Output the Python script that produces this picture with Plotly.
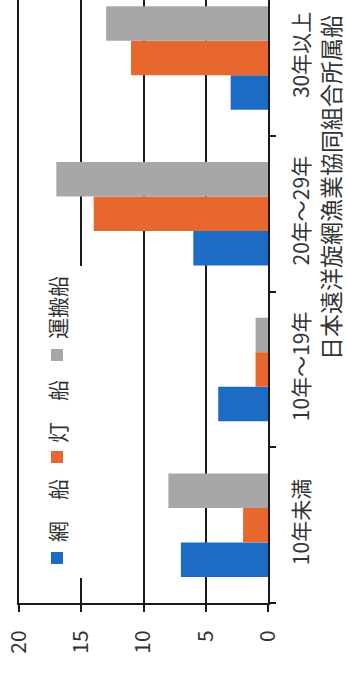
import plotly.graph_objects as go

# Vessel counts by age group, Japan Far Seas Purse Seine Fishery Cooperative
categories = ["10年未満", "10年～19年", "20年～29年", "30年以上"]
series_names = ["網\u3000船", "灯\u3000船", "運搬船"]
net_boats = [7, 4, 6, 3]
light_boats = [2, 1, 14, 11]
carrier_boats = [8, 1, 17, 13]
value_ticks = [0, 5, 10, 15, 20]
source_text = "日本遠洋旋網漁業協同組合所属船"

colors = ["#1c6cc5", "#e8672c", "#a7a7a7"]
series_values = [net_boats, light_boats, carrier_boats]

FONT = "Noto Sans CJK JP, Noto Sans, sans-serif"
TEXT = "#333333"
LINE = "#1a1a1a"

W_PAGE, H_PAGE = 346, 686
L, R, T, B = 19, 78, 0, 83
PW, PH = W_PAGE - L - R, H_PAGE - T - B


def fx(x):
    return (x - L) / PW


def fy(y):
    return (T + PH - y) / PH


fig = go.Figure()
for name, vals, col in zip(series_names, series_values, colors):
    fig.add_trace(go.Bar(
        y=categories, x=vals, name=name, orientation="h",
        marker=dict(color=col, line=dict(width=0)),
        showlegend=False,
    ))

# rotated legend drawn as shapes + vertical text
shapes = [dict(type="rect", xref="paper", yref="paper",
               x0=fx(32), x1=fx(92), y0=fy(578), y1=fy(266),
               fillcolor="white", line=dict(width=0), layer="above")]
annotations = []
sq_centers = [558, 457, 355]
txt_centers = [511, 412, 308]
for col, name, sc, tc in zip(colors, series_names, sq_centers, txt_centers):
    shapes.append(dict(type="rect", xref="paper", yref="paper",
                       x0=fx(51), x1=fx(63), y0=fy(sc + 6), y1=fy(sc - 6),
                       fillcolor=col, line=dict(width=0), layer="above"))
    annotations.append(dict(xref="paper", yref="paper", x=fx(57), y=fy(tc),
                            text=name, textangle=-90, showarrow=False,
                            xanchor="center", yanchor="middle",
                            font=dict(family=FONT, size=21, color=TEXT)))

annotations.append(dict(xref="paper", yref="paper", x=fx(330), y=fy(188),
                        text=source_text, textangle=-90, showarrow=False,
                        xanchor="center", yanchor="middle",
                        font=dict(family=FONT, size=23, color=TEXT)))

fig.update_layout(
    width=W_PAGE, height=H_PAGE,
    margin=dict(l=L, r=R, t=T, b=B, pad=0),
    paper_bgcolor="white", plot_bgcolor="white",
    barmode="group", bargap=0.335, bargroupgap=0,
    shapes=shapes, annotations=annotations,
    font=dict(family=FONT, color=TEXT),
    xaxis=dict(
        range=[20, 0], tickvals=value_ticks, ticktext=[str(v) for v in value_ticks],
        tickangle=-90, ticks="outside", ticklen=7, tickwidth=2, tickcolor=LINE,
        showgrid=True, gridcolor=LINE, gridwidth=2, zeroline=False,
        showline=True, linecolor=LINE, linewidth=2,
        tickfont=dict(family=FONT, size=21, color=TEXT),
        ticklabelstandoff=10,
    ),
    yaxis=dict(
        side="right", range=[-0.5, 3.373],
        tickangle=-90, ticks="outside", ticklen=6, tickwidth=2, tickcolor=LINE,
        tickson="boundaries", showgrid=False, zeroline=False,
        showline=True, mirror=True, linecolor=LINE, linewidth=2,
        tickfont=dict(family=FONT, size=21, color=TEXT),
        ticklabelstandoff=14,
    ),
)

fig.write_html("out.html")
